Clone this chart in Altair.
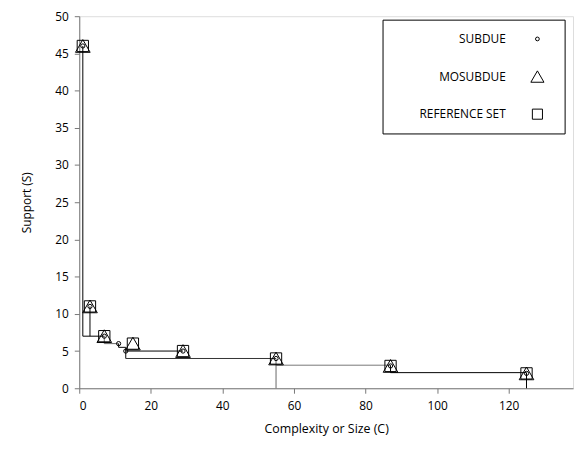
import altair as alt
import pandas as pd

# Series markers
series_names = ["SUBDUE", "MOSUBDUE", "REFERENCE SET"]
series_shapes = ["circle", "triangle-up", "square"]
series_sizes = [18, 220, 130]
subdue_x = [1, 3, 7, 11, 13, 29, 55, 87, 125]
subdue_y = [46, 11, 7, 6, 5, 5, 4, 3, 2]
mosubdue_x = [1, 3, 7, 15, 29, 55, 87, 125]
mosubdue_y = [46, 11, 7, 6, 5, 4, 3, 2]
ref_x = [1, 3, 7, 15, 29, 55, 87, 125]
ref_y = [46, 11, 7, 6, 5, 4, 3, 2]

# Step-line segments (x1, y1) -> (x2, y2)
seg_x1 = [1, 1, 3, 7, 7, 11, 11, 13, 13, 13, 55, 55, 87, 87, 125]
seg_y1 = [46, 7, 11, 7, 6, 6, 5.5, 5.5, 5, 4, 4, 3.1, 3.1, 2.1, 2.1]
seg_x2 = [1, 7, 3, 7, 11, 11, 13, 13, 29, 55, 55, 87, 87, 125, 125]
seg_y2 = [7, 7, 7, 6, 6, 5.5, 5.5, 4, 5, 4, 0, 3.1, 2.1, 2.1, 0]
seg_tone = ["#000000", "#000000", "#000000", "#666666", "#666666", "#000000",
            "#000000", "#000000", "#000000", "#333333", "#666666", "#777777",
            "#000000", "#000000", "#000000"]

x_ticks = [0, 20, 40, 60, 80, 100, 120]
y_ticks = [0, 5, 10, 15, 20, 25, 30, 35, 40, 45, 50]

segs = pd.DataFrame({"x1": seg_x1, "y1": seg_y1, "x2": seg_x2, "y2": seg_y2,
                     "tone": seg_tone})

FONT = "Open Sans"

xscale = alt.Scale(domain=[0, 138], nice=False, zero=False)
yscale = alt.Scale(domain=[0, 50], nice=False)

xaxis = alt.Axis(values=x_ticks, title="Complexity or Size (C)", grid=False,
                 labelFont=FONT, labelFontSize=12, titleFont=FONT,
                 titleFontSize=12.5, titleFontWeight="normal", labelColor="black",
                 titleColor="black", domainColor="#777777", tickColor="#777777",
                 tickSize=5, labelPadding=7, titlePadding=12)
yaxis = alt.Axis(values=y_ticks, title="Support (S)", grid=False,
                 labelFont=FONT, labelFontSize=12, titleFont=FONT,
                 titleFontSize=12, titleFontWeight="normal", labelColor="black",
                 titleColor="black", domainColor="#777777", tickColor="#777777",
                 tickSize=5, labelPadding=6, titlePadding=22)

lines = alt.Chart(segs).mark_rule(strokeWidth=1).encode(
    x=alt.X("x1:Q", scale=xscale, axis=xaxis),
    x2="x2:Q",
    y=alt.Y("y1:Q", scale=yscale, axis=yaxis),
    y2="y2:Q",
    color=alt.Color("tone:N", scale=None),
)

point_layers = []
for name, xs, ys, shp, sz in [
        (series_names[2], ref_x, ref_y, series_shapes[2], series_sizes[2]),
        (series_names[1], mosubdue_x, mosubdue_y, series_shapes[1], series_sizes[1]),
        (series_names[0], subdue_x, subdue_y, series_shapes[0], series_sizes[0])]:
    df = pd.DataFrame({"x": xs, "y": ys, "series": [name] * len(xs)})
    point_layers.append(
        alt.Chart(df).mark_point(shape=shp, size=sz, filled=False, color="black",
                                 strokeWidth=1, opacity=1).encode(
            x=alt.X("x:Q", scale=xscale, axis=xaxis),
            y=alt.Y("y:Q", scale=yscale, axis=yaxis)))

# Legend (box, labels on the left, symbols on the right)
legend_layers = [
    alt.Chart(pd.DataFrame({"k": [0]})).mark_rect(
        fill="white", stroke="black", strokeWidth=1).encode(
        x=alt.value(307), x2=alt.value(491), y=alt.value(4), y2=alt.value(119))
]
for i, name in enumerate(series_names):
    row_y = 23 + 38 * i
    df = pd.DataFrame({"series": [name]})
    legend_layers.append(
        alt.Chart(df).mark_text(align="right", baseline="middle", font=FONT,
                                fontSize=12, color="black").encode(
            text="series:N", x=alt.value(431), y=alt.value(row_y)))
    legend_layers.append(
        alt.Chart(df).mark_point(shape=series_shapes[i],
                                 size=series_sizes[i] * 0.8,
                                 filled=False, color="black", strokeWidth=1,
                                 opacity=1).encode(
            x=alt.value(463), y=alt.value(row_y)))

chart = alt.layer(lines, *point_layers, *legend_layers).properties(
    width=499, height=376,
    autosize=alt.AutoSizeParams(type="none"),
    padding={"left": 72, "top": 6, "right": 3, "bottom": 50},
).configure_view(stroke="#333333", strokeWidth=1).configure(background="white")

chart.save("out.html", embed_options={"renderer": "svg", "actions": False})
